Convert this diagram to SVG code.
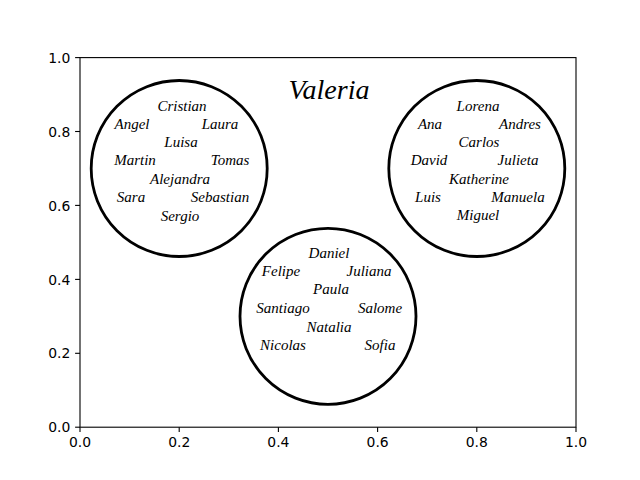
<svg xmlns="http://www.w3.org/2000/svg" width="640" height="480" viewBox="0 0 640 480">
<style>
.tick{stroke:#000;stroke-width:1.1}
.tl{font-family:"DejaVu Sans",sans-serif;font-size:13.9px;fill:#000}
.circ{fill:none;stroke:#000;stroke-width:2.8}
.nm{font-family:"Liberation Serif","DejaVu Serif",serif;font-style:italic;font-size:15px;fill:#000;text-anchor:middle;dominant-baseline:central}
.title{font-family:"Liberation Serif","DejaVu Serif",serif;font-style:italic;font-size:28px;fill:#000;text-anchor:middle;dominant-baseline:central}
</style>
<rect width="640" height="480" fill="#fff"/>
<g id="axes">
<rect x="80" y="57.6" width="496" height="369.6" fill="none" stroke="#000" stroke-width="1.1"/>
<g class="tick">
<line x1="80" y1="427.2" x2="80" y2="432.1"/><line x1="179.2" y1="427.2" x2="179.2" y2="432.1"/><line x1="278.4" y1="427.2" x2="278.4" y2="432.1"/><line x1="377.6" y1="427.2" x2="377.6" y2="432.1"/><line x1="476.8" y1="427.2" x2="476.8" y2="432.1"/><line x1="576" y1="427.2" x2="576" y2="432.1"/>
<line x1="75.1" y1="427.2" x2="80" y2="427.2"/><line x1="75.1" y1="353.3" x2="80" y2="353.3"/><line x1="75.1" y1="279.4" x2="80" y2="279.4"/><line x1="75.1" y1="205.4" x2="80" y2="205.4"/><line x1="75.1" y1="131.5" x2="80" y2="131.5"/><line x1="75.1" y1="57.6" x2="80" y2="57.6"/>
</g>
<g class="tl" text-anchor="middle">
<text x="80" y="447">0.0</text><text x="179.2" y="447">0.2</text><text x="278.4" y="447">0.4</text><text x="377.6" y="447">0.6</text><text x="476.8" y="447">0.8</text><text x="576" y="447">1.0</text>
</g>
<g class="tl" text-anchor="end">
<text x="70.3" y="432.3">0.0</text><text x="70.3" y="358.4">0.2</text><text x="70.3" y="284.5">0.4</text><text x="70.3" y="210.5">0.6</text><text x="70.3" y="136.6">0.8</text><text x="70.3" y="62.7">1.0</text>
</g>
</g>
<text class="title" x="329" y="89">Valeria</text>
<g id="table1">
<circle class="circ" cx="179.2" cy="168.5" r="88"/>
<text class="nm" x="182" y="106">Cristian</text>
<text class="nm" x="132" y="124">Angel</text>
<text class="nm" x="220" y="124">Laura</text>
<text class="nm" x="181" y="142">Luisa</text>
<text class="nm" x="135" y="160">Martin</text>
<text class="nm" x="230" y="160">Tomas</text>
<text class="nm" x="180" y="179">Alejandra</text>
<text class="nm" x="131" y="197">Sara</text>
<text class="nm" x="220" y="197">Sebastian</text>
<text class="nm" x="180" y="216">Sergio</text>
</g>
<g id="table2">
<circle class="circ" cx="476.8" cy="168.5" r="88"/>
<text class="nm" x="478" y="106">Lorena</text>
<text class="nm" x="430" y="124">Ana</text>
<text class="nm" x="520" y="124">Andres</text>
<text class="nm" x="479" y="142">Carlos</text>
<text class="nm" x="429" y="160">David</text>
<text class="nm" x="518" y="160">Julieta</text>
<text class="nm" x="479" y="179">Katherine</text>
<text class="nm" x="428" y="197">Luis</text>
<text class="nm" x="518" y="197">Manuela</text>
<text class="nm" x="478" y="215">Miguel</text>
</g>
<g id="table3">
<circle class="circ" cx="328" cy="316.3" r="88"/>
<text class="nm" x="329" y="253">Daniel</text>
<text class="nm" x="281" y="271">Felipe</text>
<text class="nm" x="369" y="271">Juliana</text>
<text class="nm" x="331" y="289">Paula</text>
<text class="nm" x="283" y="308">Santiago</text>
<text class="nm" x="380" y="308">Salome</text>
<text class="nm" x="329" y="327">Natalia</text>
<text class="nm" x="283" y="345">Nicolas</text>
<text class="nm" x="380" y="345">Sofia</text>
</g>
<g id="connectors"/>
</svg>
